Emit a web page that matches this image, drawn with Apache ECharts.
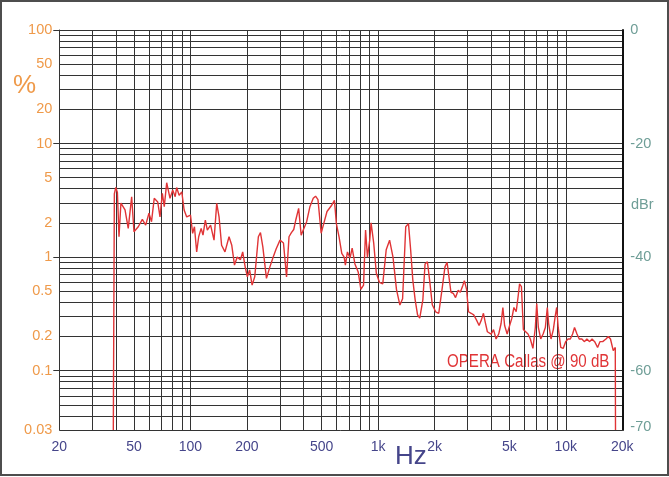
<!DOCTYPE html>
<html>
<head>
<meta charset="utf-8">
<title>OPERA Callas @ 90 dB</title>
<script src="https://cdn.jsdelivr.net/npm/echarts@6/dist/echarts.min.js"></script>
<style>
    html, body { margin: 0; padding: 0; background: #fff; }
    #main { position: absolute; left: 0; top: 0; width: 669px; height: 477px; }
    #frame { position: absolute; left: 0; top: 0; width: 669px; height: 476px; box-sizing: border-box; border: 2px solid #4d4d4d; pointer-events: none; }
</style>
</head>
<body>
<div id="main"></div>
<div id="frame"></div>
<script>
    // measured curve: frequency (Hz) and distortion (%)
    var hz = [38.8, 39.3, 40.0, 40.8, 41.6, 42.6, 44.8, 46.6, 48.6, 50.0,
        52.7, 55.4, 57.7, 60.1, 62.0, 64.1, 66.9, 68.8, 70.8, 72.5,
        74.7, 77.8, 80.4, 82.9, 84.4, 87.0, 89.9, 92.5, 95.5, 100,
        102.7, 105, 107.9, 110.6, 114, 116.6, 120, 123, 128, 133.5,
        138, 142, 146.5, 152.7, 160.5, 166, 171.6, 177.5, 184.6, 189.8,
        195.6, 201, 206.6, 213, 220, 230, 236, 243, 254, 265,
        276, 286, 300, 313, 325, 335, 345, 355, 364, 377,
        389, 399, 416, 433, 451, 464, 478, 497, 513, 534,
        563, 585, 599, 619, 640, 659, 669, 686, 708, 727,
        752, 783, 809, 836, 857, 877, 902, 917, 947, 978,
        1016, 1058, 1104, 1151, 1200, 1252, 1306, 1350, 1403, 1451,
        1490, 1530, 1575, 1622, 1666, 1731, 1778, 1830, 1880, 1943,
        2025, 2104, 2200, 2270, 2330, 2443, 2513, 2585, 2670, 2740,
        2830, 2880, 2960, 3030, 3130, 3230, 3340, 3450, 3550, 3640,
        3715, 3820, 4000, 4120, 4250, 4390, 4520, 4620, 4720, 4870,
        5020, 5160, 5290, 5440, 5570, 5670, 5800, 5940, 6110, 6290,
        6470, 6680, 6880, 7000, 7140, 7350, 7570, 7780, 7970, 8100,
        8340, 8580, 8780, 8940, 9110, 9400, 9680, 9980, 10280, 10570,
        10870, 11130, 11470, 11790, 12180, 12580, 12950, 13400, 13800, 14250,
        14770, 15200, 15720, 16370, 16850, 17300, 17900, 18350, 18400];
    var pct = [0.03, 3.6, 4.1, 3.7, 1.51, 2.99, 2.6, 1.79, 3.4, 1.67,
        1.85, 2.15, 1.91, 2.43, 2.05, 3.29, 3.06, 2.26, 3.64, 2.78,
        4.52, 3.29, 3.9, 3.4, 4.1, 3.5, 3.75, 2.6, 2.26, 2.34,
        1.62, 1.85, 1.11, 1.51, 1.79, 1.56, 2.12, 1.73, 1.91, 1.41,
        2.97, 2.26, 1.27, 1.11, 1.51, 1.27, 0.85, 1.0, 0.95, 1.11,
        0.82, 0.67, 0.77, 0.566, 0.67, 1.51, 1.64, 1.23, 0.65, 0.82,
        1.0, 1.18, 1.41, 1.33, 0.67, 1.51, 1.64, 1.75, 2.12, 2.69,
        1.56, 1.73, 2.05, 2.78, 3.29, 3.44, 3.2, 1.62, 1.97, 2.52,
        2.83, 3.16, 1.97, 1.51, 1.08, 1.0, 0.85, 1.11, 0.98, 1.2,
        0.87, 0.74, 0.52, 0.566, 1.73, 1.0, 1.41, 2.0, 1.33, 0.72,
        0.6, 0.58, 1.16, 1.41, 1.0, 0.52, 0.378, 0.43, 1.85, 1.97,
        1.16, 0.63, 0.42, 0.31, 0.29, 0.42, 0.87, 0.91, 0.63, 0.38,
        0.33, 0.32, 0.55, 0.82, 0.9, 0.49, 0.48, 0.44, 0.51, 0.49,
        0.566, 0.62, 0.52, 0.33, 0.32, 0.31, 0.28, 0.25, 0.28, 0.32,
        0.27, 0.22, 0.21, 0.23, 0.19, 0.21, 0.26, 0.36, 0.25, 0.21,
        0.25, 0.29, 0.36, 0.33, 0.45, 0.58, 0.55, 0.23, 0.22, 0.21,
        0.19, 0.157, 0.24, 0.39, 0.24, 0.19, 0.21, 0.24, 0.36, 0.26,
        0.19, 0.23, 0.3, 0.36, 0.24, 0.16, 0.157, 0.18, 0.19, 0.19,
        0.21, 0.24, 0.21, 0.19, 0.19, 0.18, 0.19, 0.18, 0.19, 0.18,
        0.16, 0.18, 0.18, 0.19, 0.2, 0.19, 0.15, 0.16, 0.03];

    // grid lines and tick labels
    var xGridHz = [20, 30, 40, 50, 60, 70, 80, 90, 100, 200, 300, 400, 500, 600, 700, 800, 900,
        1000, 2000, 3000, 4000, 5000, 6000, 7000, 8000, 9000, 10000, 20000];
    var xTickHz = [20, 50, 100, 200, 500, 1000, 2000, 5000, 10000, 20000];
    var xTickText = ['20', '50', '100', '200', '500', '1k', '2k', '5k', '10k', '20k'];

    var yGridPct = [0.03, 0.04, 0.05, 0.06, 0.07, 0.08, 0.09,
        0.1, 0.2, 0.3, 0.4, 0.5, 0.6, 0.7, 0.8, 0.9,
        1, 2, 3, 4, 5, 6, 7, 8, 9,
        10, 20, 30, 40, 50, 60, 70, 80, 90, 100];
    var yTickPct = [100, 50, 20, 10, 5, 2, 1, 0.5, 0.2, 0.1, 0.03];
    var yTickText = ['100', '50', '20', '10', '5', '2', '1', '0.5', '0.2', '0.1', '0.03'];
    var yDecadePct = [100, 10, 1, 0.1];

    var dbrTicks = [0, -20, -40, -60, -70];

    var orange = '#ef9a4a';
    var teal = '#6f9e97';
    var blue = '#45458a';
    var red = '#e03436';
    var gridColor = '#333';
    var font = "'Liberation Sans', Arial, sans-serif";

    var lg = function (v) { return Math.log10(v); };

    function lookup(v, vals, texts) {
        for (var i = 0; i < vals.length; i++) {
            if (Math.abs(lg(vals[i]) - v) < 1e-6) return texts[i];
        }
        return '';
    }

    var data = [];
    for (var i = 0; i < hz.length; i++) {
        data.push([lg(hz[i]), lg(pct[i])]);
    }

    var yMin = lg(yGridPct[0]);
    var yMax = lg(100);

    var myChart = echarts.init(document.getElementById('main'));

    option = {
        backgroundColor: '#fff',
        animation: false,
        grid: {
            left: 59.3, right: 46.7, top: 30, bottom: 47,
            containLabel: false,
            outerBoundsMode: 'none'
        },
        xAxis: {
            type: 'value',
            min: lg(20),
            max: lg(20000),
            axisLine: { show: true, lineStyle: { color: gridColor, width: 1 } },
            axisTick: { show: false, customValues: xGridHz.map(lg) },
            splitLine: { show: true, lineStyle: { color: gridColor, width: 1 } },
            axisLabel: {
                customValues: xTickHz.map(lg),
                formatter: function (v) { return lookup(v, xTickHz, xTickText); },
                color: blue,
                fontSize: 14,
                fontFamily: font,
                margin: 10
            }
        },
        yAxis: [{
            type: 'value',
            min: yMin,
            max: yMax,
            position: 'left',
            axisLine: { show: true, lineStyle: { color: gridColor, width: 1 } },
            axisTick: { show: false, customValues: yGridPct.map(lg) },
            splitLine: { show: true, lineStyle: { color: gridColor, width: 1 } },
            axisLabel: {
                customValues: yTickPct.map(lg),
                formatter: function (v) { return lookup(v, yTickPct, yTickText); },
                color: orange,
                fontSize: 14.5,
                fontFamily: font,
                margin: 7
            }
        }, {
            type: 'value',
            min: 20 * lg(yGridPct[0] / 100),
            max: 0,
            position: 'right',
            axisLine: { show: true, lineStyle: { color: '#111', width: 2 } },
            axisTick: { show: false },
            splitLine: { show: false },
            axisLabel: {
                customValues: dbrTicks,
                color: teal,
                fontSize: 14.5,
                fontFamily: font,
                margin: 8
            }
        }, {
            type: 'value',
            min: yMin,
            max: yMax,
            position: 'left',
            axisLine: { show: false },
            axisTick: { show: true, length: 6, customValues: yDecadePct.map(lg), lineStyle: { color: gridColor } },
            splitLine: { show: false },
            axisLabel: { show: false }
        }],
        graphic: [{
            type: 'text',
            style: { x: 13, y: 86, text: '%', fill: orange, font: '26px ' + font, textVerticalAlign: 'middle' }
        }, {
            type: 'text',
            style: { x: 631, y: 205, text: 'dBr', fill: teal, font: '14.5px ' + font, textVerticalAlign: 'middle' }
        }, {
            type: 'text',
            style: { x: 395, y: 457, text: 'Hz', fill: blue, font: '26px ' + font, textVerticalAlign: 'middle' }
        }, {
            // condensed label, squeezed horizontally
            type: 'text',
            x: 447,
            y: 362,
            scaleX: 0.84,
            style: {
                x: 0, y: 0, text: 'OPERA Callas @ 90 dB', fill: red,
                font: '18px ' + font,
                textVerticalAlign: 'middle'
            }
        }],
        series: [{
            name: 'OPERA Callas @ 90 dB',
            type: 'line',
            xAxisIndex: 0,
            yAxisIndex: 0,
            showSymbol: false,
            symbol: 'none',
            lineStyle: { color: red, width: 1.4 },
            data: data
        }]
    };

    myChart.setOption(option);
</script>
</body>
</html>
